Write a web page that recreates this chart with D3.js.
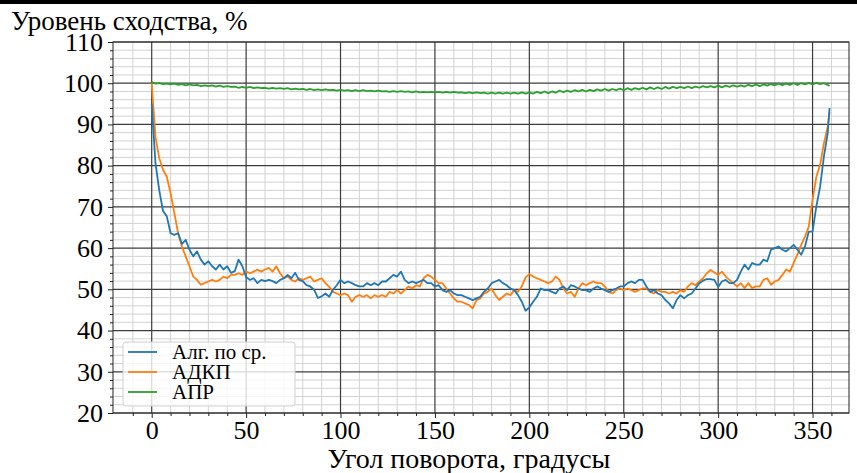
<!DOCTYPE html>
<html>
<head>
<meta charset="utf-8">
<script src="https://cdn.jsdelivr.net/npm/d3@7"></script>
<style>
  body { margin: 0; background: #fff; }
</style>
</head>
<body>
<div id="chart"></div>
<script>
const width = 857,
  height = 473;
const margin = { top: 42, right: 8, bottom: 60, left: 113 };
const serif = "'Liberation Serif', 'Times New Roman', Times, 'DejaVu Serif', serif";

// угол поворота, шаг 2 градуса + последний отсчёт
const angles = d3.range(0, 359, 2).concat([359]);

const seriesNames = ["Алг. по ср.", "АДКП", "АПР"];
const seriesColors = ["#1f77b4", "#ff7f0e", "#2ca02c"];

const algAvg = [
  95, 80.6, 74, 69, 67.7, 63.6, 63.2, 63.6, 61, 62,
  59.6, 58, 59.2, 57.2, 56, 56.8, 55.6, 54.8, 56, 54.8,
  55.6, 54, 54.4, 57.2, 55.6, 53, 52.3, 52.7, 51.5, 52.3,
  52, 52.3, 52, 51.5, 52.3, 52.7, 53.5, 52.7, 54, 52.3,
  52, 51, 50.7, 49.9, 47.9, 48.3, 49, 48.2, 49.9, 51,
  52.3, 51.5, 51.9, 51.5, 51, 50.7, 50.7, 51.5, 51, 51.5,
  51, 51.9, 51.9, 52.7, 53.5, 53.1, 54.3, 52.3, 51.5, 51.9,
  51.5, 51.9, 52.3, 51.5, 51.5, 50.7, 51, 49.8, 49.4, 49.8,
  49, 48.6, 48.6, 48.2, 47.8, 47.4, 47.8, 48.2, 49.4, 50.2,
  51.5, 51.9, 52.3, 51.5, 51, 50.2, 49.8, 48.6, 47, 44.8,
  45.6, 47, 48.2, 50.2, 49.8, 49.8, 49.4, 49, 50.2, 50.7,
  49.8, 51, 50.7, 50.2, 49.8, 49.8, 49.4, 50.2, 50.7, 50.2,
  49.8, 49.4, 49.8, 50.2, 50.7, 50.7, 51.5, 51.9, 51.5, 52.3,
  52.3, 50.7, 49.4, 49.8, 49, 48.6, 47.4, 46.6, 45.4, 47.4,
  48.6, 47.8, 48.6, 49, 50.2, 51.5, 52.1, 52.5, 52.5, 52.3,
  50.6, 51.9, 52.3, 51.5, 51.5, 52.3, 54.3, 56, 54.8, 56.4,
  56, 56, 57.2, 56.8, 59.6, 60, 60.4, 59.6, 59.2, 60,
  60.8, 59.6, 58.4, 60.4, 64, 64, 70.1, 74.9, 82.2, 87.8,
  94
];

const adkp = [
  100, 87, 81.8, 79, 77.3, 73.3, 68.5, 63.6, 60.4, 58,
  55.6, 53.1, 52.3, 51.1, 51.5, 51.9, 52.3, 51.9, 52.3, 53.1,
  52.7, 53.5, 53.5, 53.9, 53.5, 54.3, 53.9, 54.3, 54.8, 54.3,
  54.8, 55.2, 54.3, 55.6, 53.9, 52.7, 53.1, 52.3, 51.9, 52.7,
  52.3, 52.7, 53.1, 51.9, 52.3, 52.7, 51.5, 50.6, 49.4, 49,
  48.6, 49, 48.6, 47, 48.2, 48.6, 48.2, 48.6, 47.8, 48.6,
  48.2, 48.6, 48.2, 49.4, 49, 49.8, 49, 49.8, 50.7, 50.2,
  51, 50.7, 52.7, 53.5, 53.1, 52.3, 51.5, 51.5, 50.2, 49,
  47.8, 47, 47, 46.6, 46.2, 45.4, 47.4, 47.8, 49, 49.4,
  50.2, 48.6, 47.4, 48.2, 49, 48.6, 49.8, 49.4, 50.7, 52.9,
  53.7, 53.1, 52.7, 52.3, 51.9, 51.5, 51.9, 53.1, 52.3, 50.2,
  49, 49.4, 48.2, 50.2, 51.5, 51, 51.5, 51.9, 51.5, 51.5,
  50.7, 49.4, 49, 49.8, 50.2, 49.8, 50.2, 49.8, 49.4, 49.8,
  50.2, 50.2, 49.4, 49, 49.8, 49.4, 49.4, 49, 49.4, 49,
  49.8, 49.4, 50.7, 51.5, 51, 51.9, 52.7, 53.9, 54.7, 54.1,
  53.5, 54.3, 53.1, 52.3, 51.5, 50.7, 51.5, 50.3, 51.5, 50.3,
  50.7, 50.7, 52.3, 52.7, 51.1, 51.9, 52.3, 53.5, 54.8, 54.3,
  56.4, 58.4, 60.8, 62.8, 65.2, 71.7, 77.3, 80.2, 85.4, 89.4,
  93
];

const apr = [
  100.3, 99.9, 100.0, 99.8, 99.9, 99.7, 99.9, 99.6, 99.8, 99.5,
  99.7, 99.5, 99.6, 99.3, 99.5, 99.3, 99.5, 99.2, 99.4, 99.1,
  99.3, 99.1, 99.2, 98.9, 99.1, 98.9, 99.1, 98.8, 99.0, 98.8,
  98.9, 98.7, 98.9, 98.7, 98.8, 98.6, 98.8, 98.5, 98.7, 98.5,
  98.6, 98.4, 98.6, 98.3, 98.5, 98.3, 98.5, 98.3, 98.4, 98.2,
  98.4, 98.2, 98.3, 98.1, 98.3, 98.1, 98.3, 98.1, 98.2, 98.0,
  98.2, 98.0, 98.1, 97.9, 98.1, 97.9, 98.1, 97.9, 98.0, 97.8,
  98.0, 97.8, 97.9, 97.8, 97.9, 97.8, 97.9, 97.7, 97.9, 97.7,
  97.9, 97.7, 97.8, 97.6, 97.8, 97.6, 97.8, 97.6, 97.7, 97.5,
  97.7, 97.5, 97.7, 97.5, 97.7, 97.5, 97.7, 97.5, 97.8, 97.5,
  97.8, 97.5, 97.9, 97.6, 98.0, 97.6, 98.0, 97.7, 98.2, 97.8,
  98.2, 97.9, 98.3, 98.0, 98.4, 98.0, 98.4, 98.1, 98.5, 98.2,
  98.6, 98.2, 98.6, 98.3, 98.7, 98.3, 98.8, 98.4, 98.8, 98.5,
  98.9, 98.5, 99.0, 98.6, 99.0, 98.6, 99.1, 98.7, 99.1, 98.8,
  99.1, 98.8, 99.2, 98.8, 99.2, 98.9, 99.3, 99.0, 99.3, 99.0,
  99.4, 99.0, 99.4, 99.1, 99.5, 99.2, 99.5, 99.2, 99.6, 99.3,
  99.7, 99.3, 99.7, 99.4, 99.8, 99.5, 99.9, 99.5, 99.9, 99.6,
  100.0, 99.6, 100.0, 99.7, 100.1, 99.7, 100.1, 99.8, 100.0, 99.6,
  99.3
];

const xMajor = d3.range(0, 351, 50);
const xMinor = d3.range(-10, 370, 10).filter(d => d % 50 !== 0);
const yMajor = d3.range(20, 111, 10);
const yMinor = d3.range(22, 110, 2).filter(d => d % 10 !== 0);

const svg = d3.select("#chart").append("svg").attr("width", width).attr("height", height)
  .attr("font-family", serif);

// чёрная полоса сверху (как на скриншоте)
svg.append("rect").attr("x", 0).attr("y", 0).attr("width", width).attr("height", 4).attr("fill", "#000");

const x = d3.scaleLinear().domain([-20.5, 369.3]).range([margin.left, width - margin.right]);
const y = d3.scaleLinear().domain([20, 110]).range([height - margin.bottom, margin.top]);

const grid = svg.append("g");

grid.selectAll(".xmin").data(xMinor).join("line")
  .attr("x1", d => x(d)).attr("x2", d => x(d))
  .attr("y1", y(20)).attr("y2", y(110))
  .attr("stroke", "#d2d2d2").attr("stroke-width", 1);

grid.selectAll(".ymin").data(yMinor).join("line")
  .attr("x1", x.range()[0]).attr("x2", x.range()[1])
  .attr("y1", d => y(d)).attr("y2", d => y(d))
  .attr("stroke", "#d2d2d2").attr("stroke-width", 1);

grid.selectAll(".xmaj").data(xMajor).join("line")
  .attr("x1", d => x(d)).attr("x2", d => x(d))
  .attr("y1", y(20)).attr("y2", y(110))
  .attr("stroke", "#3c3c3c").attr("stroke-width", 1.2);

grid.selectAll(".ymaj").data(yMajor).join("line")
  .attr("x1", x.range()[0]).attr("x2", x.range()[1])
  .attr("y1", d => y(d)).attr("y2", d => y(d))
  .attr("stroke", "#3c3c3c").attr("stroke-width", 1.2);

// линии данных
const series = [algAvg, adkp, apr];
const line = d3.line().x((d, i) => x(angles[i])).y(d => y(d));

svg.append("g")
  .selectAll("path")
  .data([apr, adkp, algAvg])
  .join("path")
  .attr("d", line)
  .attr("fill", "none")
  .attr("stroke", d => seriesColors[series.indexOf(d)])
  .attr("stroke-width", 1.8)
  .attr("stroke-linejoin", "round");

// рамка
svg.append("rect")
  .attr("x", x.range()[0]).attr("y", y(110))
  .attr("width", x.range()[1] - x.range()[0]).attr("height", y(20) - y(110))
  .attr("fill", "none").attr("stroke", "#222").attr("stroke-width", 1);

// оси
const xAxis = svg.append("g").attr("transform", `translate(0,${y(20)})`)
  .call(d3.axisBottom(x).tickValues(xMajor).tickSize(5).tickPadding(3));
svg.append("g").attr("transform", `translate(0,${y(20)})`)
  .call(d3.axisBottom(x).tickValues(xMinor).tickSize(3).tickFormat(""));

const yAxis = svg.append("g").attr("transform", `translate(${x.range()[0]},0)`)
  .call(d3.axisLeft(y).tickValues(yMajor).tickSize(5).tickPadding(5));
svg.append("g").attr("transform", `translate(${x.range()[0]},0)`)
  .call(d3.axisLeft(y).tickValues(yMinor).tickSize(3).tickFormat(""));

svg.selectAll(".domain").remove();
svg.selectAll(".tick line").attr("stroke", "#222");
svg.selectAll(".tick text").attr("font-size", 26).attr("font-family", serif).attr("fill", "#000");

// подписи
svg.append("text").attr("x", 11).attr("y", 30).attr("font-size", 27)
  .attr("font-family", serif).text("Уровень сходства, %");
svg.append("text").attr("x", 469).attr("y", 468).attr("font-size", 28)
  .attr("font-family", serif).attr("text-anchor", "middle").text("Угол поворота, градусы");

// легенда
const leg = svg.append("g").attr("transform", "translate(123,342)");
leg.append("rect").attr("width", 172).attr("height", 64).attr("rx", 3)
  .attr("fill", "#fff").attr("fill-opacity", 0.8).attr("stroke", "#d0d0d0");
seriesNames.forEach((name, i) => {
  leg.append("line").attr("x1", 5).attr("x2", 34).attr("y1", 10 + i * 20).attr("y2", 10 + i * 20)
    .attr("stroke", seriesColors[i]).attr("stroke-width", 1.8);
  leg.append("text").attr("x", 49).attr("y", 10 + i * 20).attr("dy", "0.33em")
    .attr("font-size", 21).attr("font-family", serif).text(name);
});
</script>
</body>
</html>
